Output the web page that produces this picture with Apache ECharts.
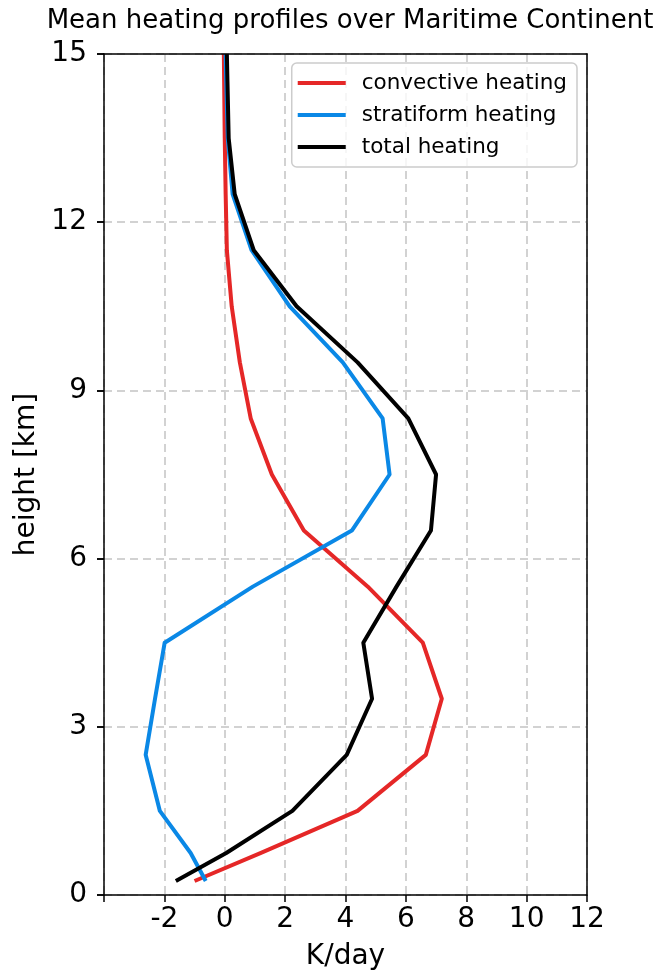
<!DOCTYPE html>
<html>
<head>
<meta charset="utf-8">
<script src="https://cdn.jsdelivr.net/npm/echarts@6/dist/echarts.min.js"></script>
<style>html,body{margin:0;padding:0;background:#fff;}#c{width:654px;height:976px;}</style>
</head>
<body>
<div id="c"></div>
<script>
const heights = [0.25, 0.75, 1.5, 2.5, 3.5, 4.5, 5.5, 6.5, 7.5, 8.5, 9.5, 10.5, 11.5, 12.5, 13.5, 14.5, 15];
const convective = [-1.0, 1.2, 4.40, 6.66, 7.19, 6.56, 4.74, 2.62, 1.56, 0.86, 0.50, 0.23, 0.07, 0.03, 0.0, -0.02, -0.03];
const stratiform = [-0.63, -1.13, -2.15, -2.62, -2.31, -1.99, 0.93, 4.21, 5.46, 5.23, 3.91, 2.15, 0.89, 0.26, 0.10, 0.05, 0.03];
const total = [-1.62, 0.05, 2.24, 4.04, 4.88, 4.59, 5.69, 6.83, 7.00, 6.08, 4.40, 2.38, 0.96, 0.33, 0.13, 0.09, 0.07];
const xTickLabels = ['-2', '0', '2', '4', '6', '8', '10', '12'];
const seriesNames = ['convective heating', 'stratiform heating', 'total heating'];
const seriesColors = ['#e52727', '#0a88e6', '#000000'];

const FONT = 'DejaVu Sans';
const pair = (xs) => xs.map((v, i) => [v, heights[i]]);
const gridDash = {color: '#c4c4c4', width: 1.5, type: [8, 5]};
const frameLine = {show: true, onZero: false, lineStyle: {color: '#000', width: 1.5}};
const tickStyle = {show: true, inside: false, length: 7, lineStyle: {color: '#000', width: 1.5}};

const chart = echarts.init(document.getElementById('c'), null, {renderer: 'canvas'});
chart.setOption({
  animation: false,
  backgroundColor: '#fff',
  title: {
    text: 'Mean heating profiles over Maritime Continent',
    left: 345, top: 3, textAlign: 'center',
    textStyle: {fontFamily: FONT, fontSize: 26, fontWeight: 'normal', color: '#000'}
  },
  legend: {
    orient: 'vertical',
    right: 77, top: 63,
    padding: [7, 10, 7, 6],
    itemWidth: 48, itemHeight: 4, itemGap: 6,
    backgroundColor: 'rgba(255,255,255,0.8)',
    borderColor: '#cccccc', borderWidth: 1.5, borderRadius: 5,
    textStyle: {fontFamily: FONT, fontSize: 21.5, color: '#000', lineHeight: 26, padding: [0, 0, 0, 11]},
    data: seriesNames.map(n => ({name: n, icon: 'rect'}))
  },
  grid: {left: 104, right: 67, top: 54, bottom: 80, containLabel: false},
  xAxis: [{
    type: 'value', min: -4, max: 12, interval: 2, position: 'bottom',
    axisLine: {show: false, onZero: false},
    axisTick: tickStyle,
    axisLabel: {fontFamily: FONT, fontSize: 28, color: '#000', margin: 11,
      formatter: v => (xTickLabels.indexOf(String(v)) >= 0 ? String(v) : '')},
    splitLine: {show: true, lineStyle: gridDash},
    name: 'K/day', nameLocation: 'middle', nameGap: 48,
    nameTextStyle: {fontFamily: FONT, fontSize: 28, color: '#000'}
  }, {
    type: 'value', min: -4, max: 12, position: 'top', z: 5,
    axisLine: frameLine, axisTick: {show: false}, axisLabel: {show: false}, splitLine: {show: false}
  }, {
    type: 'value', min: -4, max: 12, position: 'bottom', z: 5,
    axisLine: frameLine, axisTick: {show: false}, axisLabel: {show: false}, splitLine: {show: false}
  }],
  yAxis: [{
    type: 'value', min: 0, max: 15, interval: 3, position: 'left',
    axisLine: {show: false, onZero: false},
    axisTick: tickStyle,
    axisLabel: {fontFamily: FONT, fontSize: 28, color: '#000', margin: 17},
    splitLine: {show: true, lineStyle: gridDash},
    name: 'height [km]', nameLocation: 'middle', nameGap: 58, nameRotate: 90,
    nameTextStyle: {fontFamily: FONT, fontSize: 28, color: '#000'}
  }, {
    type: 'value', min: 0, max: 15, interval: 3, position: 'left', z: 5,
    axisLine: frameLine, axisTick: tickStyle, axisLabel: {show: false}, splitLine: {show: false}
  }, {
    type: 'value', min: 0, max: 15, position: 'right', z: 5,
    axisLine: frameLine, axisTick: {show: false}, axisLabel: {show: false}, splitLine: {show: false}
  }],
  series: [convective, stratiform, total].map((d, i) => ({
    name: seriesNames[i], type: 'line', data: pair(d),
    xAxisIndex: 0, yAxisIndex: 0,
    showSymbol: false, symbol: 'none', smooth: false, clip: true,
    color: seriesColors[i],
    lineStyle: {color: seriesColors[i], width: 4, join: 'round', cap: 'butt'},
    itemStyle: {color: seriesColors[i]},
    z: 2 + i
  }))
});
</script>
</body>
</html>
